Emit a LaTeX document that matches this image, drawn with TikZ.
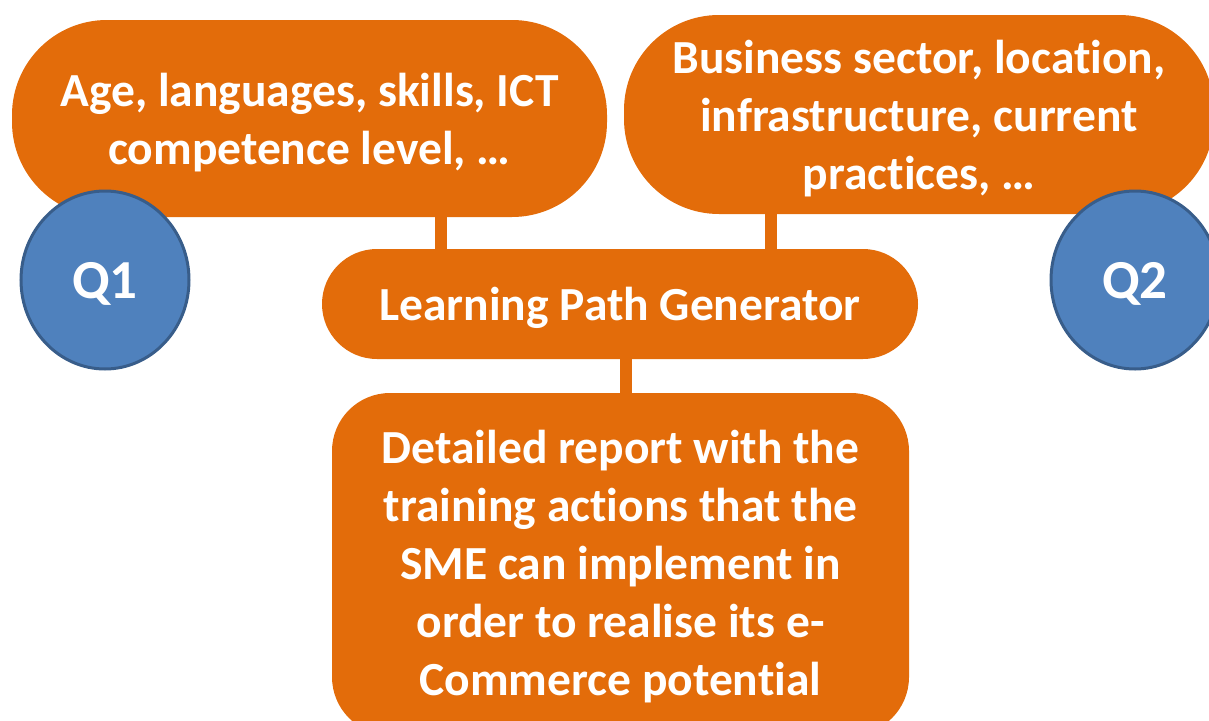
\documentclass[tikz,border=0pt]{standalone}
\usepackage{fontspec}
\setmainfont[Ligatures=NoCommon]{Carlito}
\usetikzlibrary{shapes.geometric}
\definecolor{orangeF}{HTML}{E36C0A}
\definecolor{blueF}{HTML}{4F81BD}
\definecolor{blueD}{HTML}{385D8A}
\newcommand\nti{t\kern0pt i}
\tikzset{
  box/.style={rectangle, fill=orangeF, inner sep=0pt},
  txt/.style={text=white, inner sep=0pt, align=center,
    font=\fontsize{47.5}{58}\selectfont\bfseries},
  conn/.style={draw=orangeF, line width=12pt},
  qcirc/.style={ellipse, fill=blueF, draw=blueD, line width=3pt,
    inner sep=0pt, minimum width=168pt, minimum height=178pt},
  qtxt/.style={text=white, inner sep=0pt, font=\fontsize{55}{60}\selectfont\bfseries}
}
\begin{document}
\begin{tikzpicture}[x=1pt,y=-1pt]
\useasboundingbox (0,0) rectangle (1209,720);
\clip (0,0) rectangle (1209,720);
\node[box, rounded corners=95pt, minimum width=595pt, minimum height=197pt] (tl) at (309.5,118.5) {};
\node[box, rounded corners=95pt, minimum width=590pt, minimum height=199pt] (tr) at (919,114.5) {};
\node[box, rounded corners=55pt, minimum width=596pt, minimum height=110pt] (mid) at (620,304) {};
\node[box, rounded corners=58pt, minimum width=577pt, minimum height=342pt] (bot) at (620.5,564) {};
\node[txt] (tlt) at ([yshift=-4pt]tl.center) {Age, languages, skills, ICT\\competence level, …};
\node[txt] (trt) at ([yshift=-4pt]tr.center) {Business sector, loca\nti on,\\infrastructure, current\\prac\nti ces, …};
\node[txt] (midt) at ([yshift=-4pt]mid.center) {Learning Path Generator};
\node[txt] (bott) at ([yshift=-3pt]bot.center) {Detailed report with the\\training ac\nti ons that the\\SME can implement in\\order to realise its e-\\Commerce poten\nti al};
\coordinate (c1) at (441,0);
\coordinate (c2) at (771,0);
\coordinate (c3) at (626,0);
\draw[conn] (tl.south -| c1) -- (mid.north -| c1);
\draw[conn] (tr.south -| c2) -- (mid.north -| c2);
\draw[conn] (mid.south -| c3) -- (bot.north -| c3);
\node[qcirc] (q1) at (105,280) {};
\node[qcirc] (q2) at (1135,280) {};
\node[qtxt] (q1t) at ([yshift=-4pt]q1.center) {Q1};
\node[qtxt] (q2t) at ([yshift=-4pt]q2.center) {Q2};
\end{tikzpicture}
\end{document}
